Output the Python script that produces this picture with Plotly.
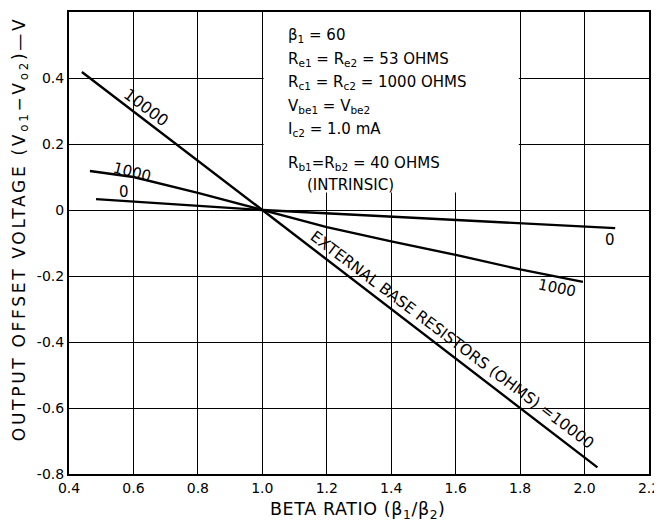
import plotly.graph_objects as go

# Data
x_r0 = [0.484, 1.0, 2.095]
y_r0 = [0.033, 0.0, -0.055]
x_r1000 = [0.465, 0.6, 0.8, 1.0, 1.2, 1.4, 1.6, 1.8, 1.995]
y_r1000 = [0.118, 0.10, 0.052, 0.0, -0.052, -0.095, -0.136, -0.180, -0.218]
x_r10000 = [0.44, 1.0, 2.04]
y_r10000 = [0.418, 0.0, -0.78]

x_ticks = [0.4, 0.6, 0.8, 1.0, 1.2, 1.4, 1.6, 1.8, 2.0, 2.2]
x_tick_labels = ["0.4", "0.6", "0.8", "1.0", "1.2", "1.4", "1.6", "1.8", "2.0", "2.2"]
y_ticks = [0.6, 0.4, 0.2, 0.0, -0.2, -0.4, -0.6, -0.8]
y_tick_labels = ["0.6", "0.4", "0.2", "0", "-0.2", "-0.4", "-0.6", "-0.8"]

box_lines = [
    "β<sub>1</sub> = 60",
    "R<sub>e1</sub> = R<sub>e2</sub> = 53 OHMS",
    "R<sub>c1</sub> = R<sub>c2</sub> = 1000 OHMS",
    "V<sub>be1</sub> = V<sub>be2</sub>",
    "I<sub>c2</sub> = 1.0 mA",
    "R<sub>b1</sub>=R<sub>b2</sub> = 40 OHMS",
    "(INTRINSIC)",
]

FONT = "DejaVu Sans, Verdana, sans-serif"

fig = go.Figure()
for xs, ys in [(x_r0, y_r0), (x_r1000, y_r1000), (x_r10000, y_r10000)]:
    fig.add_trace(go.Scatter(x=xs, y=ys, mode="lines",
                             line=dict(color="black", width=2.4),
                             showlegend=False, hoverinfo="skip"))

def ann(x, y, text, angle=0, size=15, **kw):
    fig.add_annotation(x=x, y=y, xref="x", yref="y", text=text, showarrow=False,
                       textangle=angle, font=dict(family=FONT, size=size, color="black"), **kw)

# curve labels
ann(0.64, 0.312, "10000", 37, size=16)
ann(0.595, 0.115, "1000", 14, size=15)
ann(0.571, 0.055, "0", 0, size=15)
ann(2.08, -0.091, "0", 0, size=15)
ann(1.915, -0.236, "1000", 12, size=15)
ann(1.589, -0.394, "EXTERNAL BASE RESISTORS (OHMS) =10000", 37, size=15.5)

# parameter box (white panel hiding the grid)
fig.add_shape(type="rect", xref="x", yref="y", x0=1.004, x1=1.796, y0=0.053, y1=0.6,
              fillcolor="white", line=dict(width=0), layer="between")
box_x = [1.073, 1.073, 1.073, 1.073, 1.073, 1.073, 1.132]
box_y = [0.530, 0.455, 0.385, 0.315, 0.245, 0.140, 0.075]
for bx, by, t in zip(box_x, box_y, box_lines):
    fig.add_annotation(x=bx, y=by, xref="x", yref="y", xanchor="left", yanchor="middle",
                       text=t, showarrow=False, align="left",
                       font=dict(family=FONT, size=15, color="black"))

# axis titles
fig.add_annotation(x=-0.0845, y=0.53, xref="paper", yref="paper", showarrow=False,
                   xanchor="center", yanchor="middle",
                   text="<span style='letter-spacing:2.7px'>OUTPUT OFFSET VOLTAGE (V<sub>o1</sub>−V<sub>o2</sub>)—V</span>",
                   textangle=-90,
                   font=dict(family=FONT, size=17, color="black"))
fig.add_annotation(x=0.498, y=-0.078, xref="paper", yref="paper", showarrow=False,
                   xanchor="center", yanchor="middle",
                   text="<span style='letter-spacing:0.6px'>BETA RATIO (β<sub>1</sub>/β<sub>2</sub>)</span>",
                   font=dict(family=FONT, size=17.5, color="black"))

fig.update_xaxes(range=[0.4, 2.2], tickvals=x_ticks, ticktext=x_tick_labels,
                 showgrid=True, gridcolor="black", gridwidth=1,
                 showline=True, linecolor="black", linewidth=2, mirror=True,
                 zeroline=False, ticks="", automargin=False,
                 tickfont=dict(family=FONT, size=14, color="black"))
fig.update_yaxes(range=[-0.8, 0.6], tickvals=y_ticks, ticktext=y_tick_labels,
                 showgrid=True, gridcolor="black", gridwidth=1,
                 showline=True, linecolor="black", linewidth=2, mirror=True,
                 zeroline=False, ticks="", automargin=False,
                 tickfont=dict(family=FONT, size=14, color="black"))

# page body adds an 8px offset; size the figure so it fills the 662x523 window
fig.update_layout(width=654, height=515, paper_bgcolor="white", plot_bgcolor="white",
                  margin=dict(l=61, r=13, t=4, b=49))
fig.write_html("out.html")
